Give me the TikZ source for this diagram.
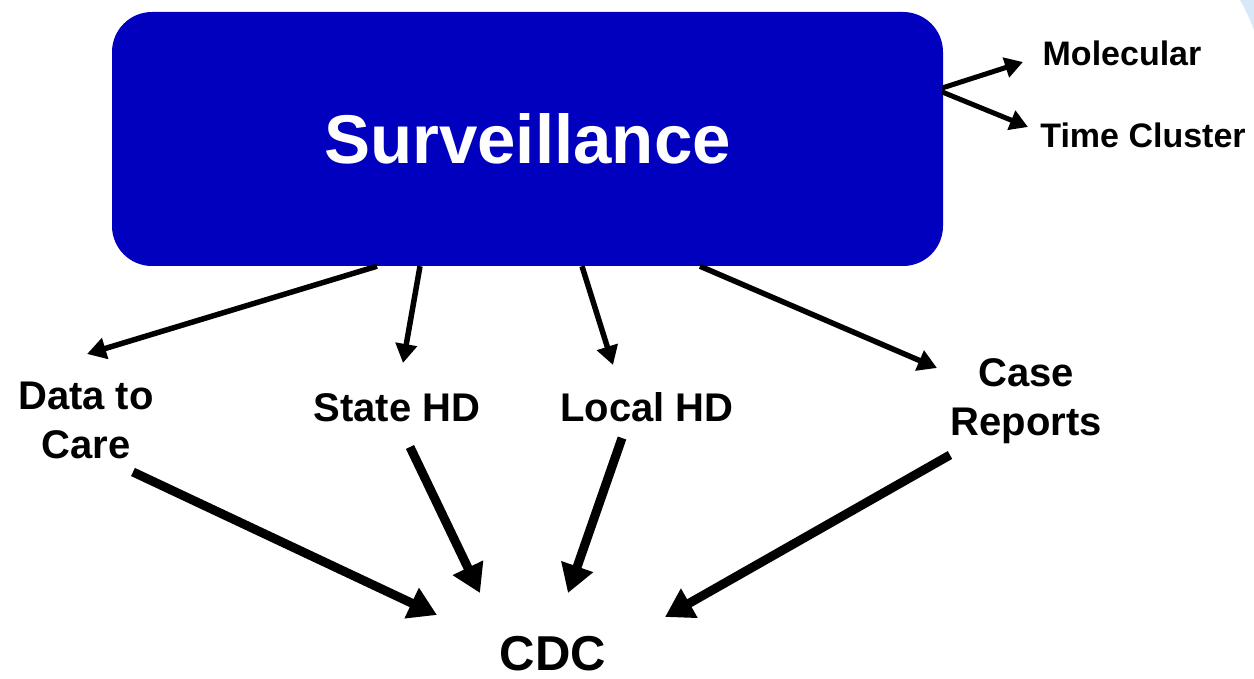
\documentclass[tikz,border=0pt]{standalone}
\usepackage{fontspec}
\setmainfont{Liberation Sans}
\usetikzlibrary{arrows.meta,calc}
\definecolor{boxblue}{RGB}{0,0,190}
\definecolor{deco}{RGB}{215,232,248}
\tikzset{
  lbl/.style={inner sep=0pt, font=\bfseries\fontsize{40}{49}\selectfont, align=center},
  small/.style={inner sep=0pt, font=\bfseries\fontsize{34}{40}\selectfont},
  thinarrow/.style={line width=5.5pt, -{Triangle[length=19pt,width=21pt]}},
  thickarrow/.style={line width=9pt, -{Triangle[length=28pt,width=32pt]}},
  sidearrow/.style={line width=5pt, -{Triangle[length=18pt,width=20pt]}},
}
\begin{document}
\begin{tikzpicture}[x=1pt,y=-1pt]
\useasboundingbox (0,0) rectangle (1254,679);
\fill[deco] (1240,0) .. controls (1246,10) and (1250,20) .. (1254,30) -- (1254,0) -- cycle;
\node[fill=boxblue, rounded corners=40pt, minimum width=831pt, minimum height=254pt, inner sep=0pt,
      text=white, font=\bfseries\fontsize{69}{80}\selectfont] (box) at (527.5,139) {Surveillance};
\node[small, anchor=base] (mol) at (1122,66) {Molecular};
\node[small, anchor=base] (time) at (1143,148) {Time Cluster};
\node[lbl] (d2c) at (86,420) {Data to\\Care};
\node[lbl, anchor=base] (state) at (397,421) {State HD};
\node[lbl, anchor=base] (local) at (647,421) {Local HD};
\node[lbl] (case) at (1026,401) {Case\\Reports};
\node[inner sep=0pt, font=\bfseries\fontsize{49}{58}\selectfont, anchor=base] (cdc) at (553,670) {CDC};
% right arrows
\draw[sidearrow] ($(box.east)+(-1,-51)$) -- ($(mol.base)+(-99,-4)$);
\draw[sidearrow] ($(box.east)+(-1,-47)$) -- ($(time.base)+(-115,-21)$);
% down arrows
\draw[thinarrow] ($(box.south)+(-150.5,0)$) -- ($(d2c.center)+(1,-66)$);
\draw[thinarrow] ($(box.south)+(-107.5,0)$) -- ($(state.base)+(6,-58)$);
\draw[thinarrow] ($(box.south)+(54.5,0)$) -- ($(local.base)+(-34,-56)$);
\draw[thinarrow] ($(box.south)+(172.5,0)$) -- ($(case.center)+(-89,-33)$);
% to CDC
\draw[thickarrow] ($(d2c.center)+(47,52)$) -- ($(cdc.base)+(-116,-55)$);
\draw[thickarrow] ($(state.base)+(13,26)$) -- ($(cdc.base)+(-73,-77)$);
\draw[thickarrow] ($(local.base)+(-25,17)$) -- ($(cdc.base)+(15,-77)$);
\draw[thickarrow] ($(case.center)+(-76,54)$) -- ($(cdc.base)+(112,-53)$);
\end{tikzpicture}
\end{document}
